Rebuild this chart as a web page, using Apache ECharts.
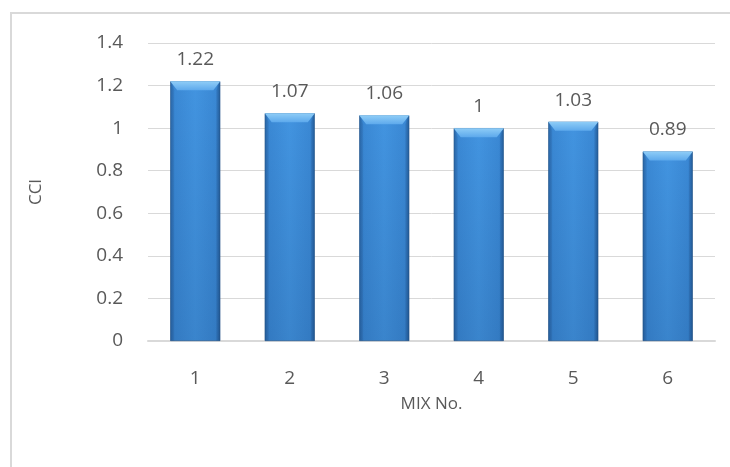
<!DOCTYPE html>
<html>
<head>
<meta charset="utf-8">
<script src="https://cdn.jsdelivr.net/npm/echarts@6/dist/echarts.min.js"></script>
<style>html,body{margin:0;padding:0;background:#fff}#c{width:730px;height:467px}</style>
</head>
<body>
<div id="c"></div>
<script>
var categories = ['1', '2', '3', '4', '5', '6'];
var cciValues = [1.22, 1.07, 1.06, 1, 1.03, 0.89];
var yTicks = [0, 0.2, 0.4, 0.6, 0.8, 1, 1.2, 1.4];

var FONT = '"Open Sans", "Liberation Sans", sans-serif';
var TXT = '#595959';
var BAR_RATIO = 0.53;

var chart = echarts.init(document.getElementById('c'));
chart.setOption({
  animation: false,
  graphic: [{
    type: 'rect', z: -10, silent: true,
    shape: { x: 11, y: 13, width: 900, height: 700 },
    style: { fill: '#fff', stroke: '#d9d9d9', lineWidth: 2 }
  }],
  grid: { left: 148, right: 15, top: 43, bottom: 126 },
  xAxis: {
    type: 'category', data: categories,
    name: 'MIX No.', nameLocation: 'middle', nameGap: 55,
    nameTextStyle: { color: TXT, fontFamily: FONT, fontSize: 17 },
    axisLine: { lineStyle: { color: '#d9d9d9', width: 2 } },
    axisTick: { show: false },
    axisLabel: { color: TXT, fontFamily: FONT, fontSize: 19, margin: 28 }
  },
  yAxis: {
    type: 'value', min: yTicks[0], max: yTicks[yTicks.length - 1], interval: 0.2,
    name: 'CCI', nameLocation: 'middle', nameGap: 103,
    nameTextStyle: { color: TXT, fontFamily: FONT, fontSize: 17 },
    axisLine: { show: false }, axisTick: { show: false },
    splitLine: { lineStyle: { color: '#d9d9d9', width: 1 } },
    axisLabel: {
      color: TXT, fontFamily: FONT, fontSize: 19, margin: 25,
      formatter: function (v) { return String(Math.round(v * 10) / 10); }
    }
  },
  series: [{
    type: 'bar', data: cciValues, barWidth: (BAR_RATIO * 100) + '%',
    itemStyle: {
      color: new echarts.graphic.LinearGradient(0, 0, 1, 0, [
        { offset: 0, color: '#2b6aab' },
        { offset: 0.08, color: '#3a88d4' },
        { offset: 0.5, color: '#4294e0' },
        { offset: 0.92, color: '#3a88d4' },
        { offset: 1, color: '#26619f' }
      ]),
      borderColor: '#2a5f96', borderWidth: 0.6
    },
    label: {
      show: true, position: 'top', distance: 12,
      color: TXT, fontFamily: FONT, fontSize: 19
    }
  }, {
    type: 'custom', z: 3, silent: true,
    data: cciValues.map(function (v, i) { return [i, v]; }),
    renderItem: function (params, api) {
      var top = api.coord([api.value(0), api.value(1)]);
      var bot = api.coord([api.value(0), 0]);
      var w = api.size([1, 0])[0] * BAR_RATIO;
      var x0 = top[0] - w / 2, x1 = top[0] + w / 2, y0 = top[1], yb = bot[1];
      var b = 9, s = 4;
      return {
        type: 'group',
        children: [{
          type: 'rect',
          shape: { x: x0, y: y0, width: w, height: yb - y0 },
          style: {
            fill: new echarts.graphic.LinearGradient(0, 0, 0, 1, [
              { offset: 0, color: 'rgba(0,20,60,0)' },
              { offset: 1, color: 'rgba(0,20,60,0.12)' }
            ])
          }
        }, {
          type: 'polygon',
          shape: { points: [[x0, y0], [x0 + s, y0 + b], [x0 + s, yb], [x0, yb]] },
          style: { fill: 'rgba(20,50,100,0.1)' }
        }, {
          type: 'polygon',
          shape: { points: [[x1, y0], [x1 - s, y0 + b], [x1 - s, yb], [x1, yb]] },
          style: { fill: 'rgba(20,50,100,0.12)' }
        }, {
          type: 'polygon',
          shape: { points: [[x0, y0], [x1, y0], [x1 - s - 3, y0 + b], [x0 + s + 3, y0 + b]] },
          style: {
            fill: new echarts.graphic.LinearGradient(0, 0, 0, 1, [
              { offset: 0, color: '#8fcdf7' },
              { offset: 1, color: '#5da9ec' }
            ])
          }
        }]
      };
    }
  }]
});
</script>
</body>
</html>
